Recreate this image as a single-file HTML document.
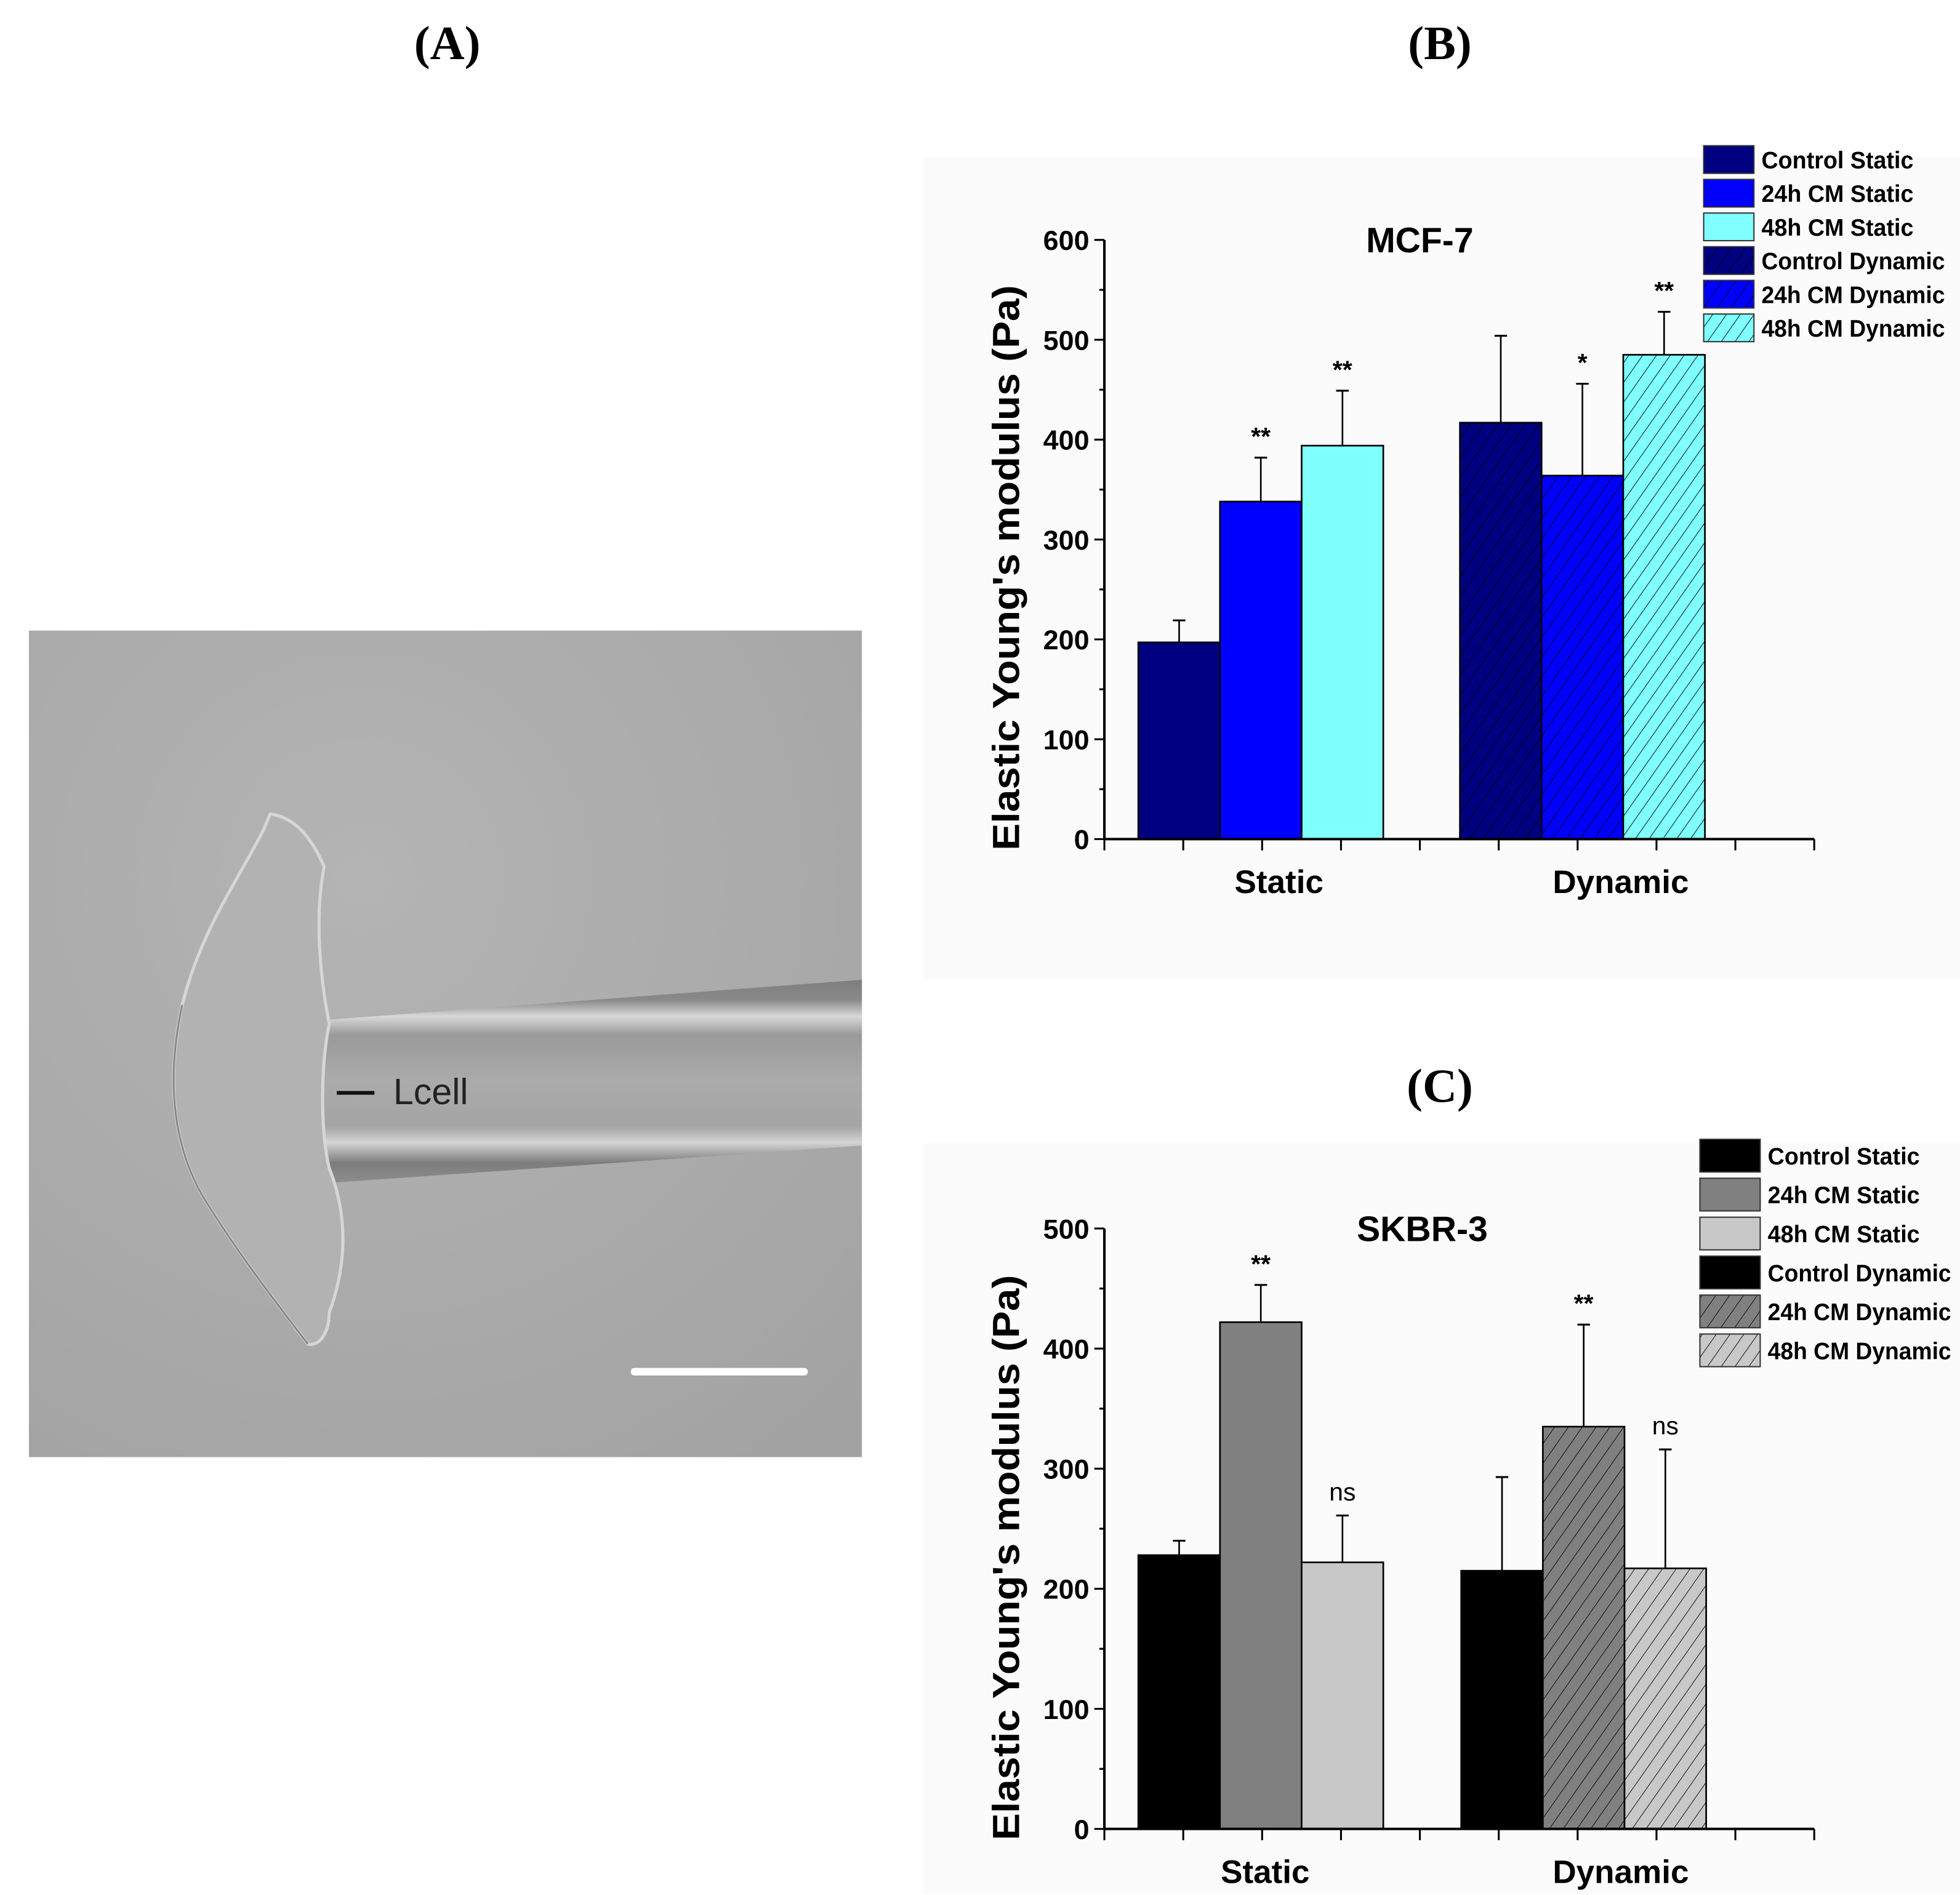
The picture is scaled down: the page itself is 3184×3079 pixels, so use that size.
<!DOCTYPE html>
<html><head><meta charset="utf-8"><style>
html,body{margin:0;padding:0;background:#fff;}
svg{display:block;}
text{font-family:"Liberation Sans",sans-serif;}
</style></head><body>
<svg id="root" xmlns="http://www.w3.org/2000/svg" width="3184" height="3079" viewBox="0 0 1560 1508.6">
<defs>
<pattern id="hatchB0" patternUnits="userSpaceOnUse" width="9" height="9" patternTransform="rotate(35)"><rect width="9" height="9" fill="#000080"/><line x1="0" y1="0" x2="0" y2="9" stroke="#000" stroke-width="0.9"/></pattern>
<pattern id="hatchB1" patternUnits="userSpaceOnUse" width="9" height="9" patternTransform="rotate(35)"><rect width="9" height="9" fill="#0000ff"/><line x1="0" y1="0" x2="0" y2="9" stroke="#000" stroke-width="0.9"/></pattern>
<pattern id="hatchB2" patternUnits="userSpaceOnUse" width="9" height="9" patternTransform="rotate(35)"><rect width="9" height="9" fill="#80ffff"/><line x1="0" y1="0" x2="0" y2="9" stroke="#000" stroke-width="0.9"/></pattern>
<pattern id="hatchC0" patternUnits="userSpaceOnUse" width="9" height="9" patternTransform="rotate(35)"><rect width="9" height="9" fill="#000"/></pattern>
<pattern id="hatchC1" patternUnits="userSpaceOnUse" width="9" height="9" patternTransform="rotate(35)"><rect width="9" height="9" fill="#808080"/><line x1="0" y1="0" x2="0" y2="9" stroke="#000" stroke-width="0.9"/></pattern>
<pattern id="hatchC2" patternUnits="userSpaceOnUse" width="9" height="9" patternTransform="rotate(35)"><rect width="9" height="9" fill="#c8c8c8"/><line x1="0" y1="0" x2="0" y2="9" stroke="#000" stroke-width="0.9"/></pattern>
<radialGradient id="bgA" cx="0.4" cy="0.3" r="0.9"><stop offset="0" stop-color="#b4b4b4"/><stop offset="1" stop-color="#a2a2a2"/></radialGradient>
<linearGradient id="pip" x1="0" y1="0" x2="0" y2="1">
<stop offset="0" stop-color="#7e7e7e"/><stop offset="0.1" stop-color="#8a8a8a"/><stop offset="0.18" stop-color="#d8d8d8"/><stop offset="0.27" stop-color="#9a9a9a"/><stop offset="0.5" stop-color="#ababab"/><stop offset="0.72" stop-color="#a4a4a4"/><stop offset="0.8" stop-color="#d4d4d4"/><stop offset="0.9" stop-color="#7c7c7c"/><stop offset="1" stop-color="#8e8e8e"/></linearGradient>
</defs>

<text x="356" y="47" text-anchor="middle" font-size="38" font-weight="bold" style="font-family:'Liberation Serif',serif">(A)</text>
<text x="1146" y="47" text-anchor="middle" font-size="38" font-weight="bold" style="font-family:'Liberation Serif',serif">(B)</text>
<text x="1146" y="877" text-anchor="middle" font-size="38" font-weight="bold" style="font-family:'Liberation Serif',serif">(C)</text>

<g>
<rect x="23" y="502" width="663" height="658" fill="url(#bgA)"/>
<polygon points="258,812 686,780 686,912 258,942" fill="url(#pip)"/>
<path d="M215,648 C230,650 245,660 258,690 C250,730 255,780 262,815 C255,850 255,900 262,930 C278,970 275,1010 262,1045 C262,1060 255,1072 245,1070 C230,1050 190,1000 160,950 C138,910 132,860 145,800 C160,740 190,700 210,660 Z" fill="#b2b2b2" stroke="#d6d6d6" stroke-width="2.5"/>
<path d="M145,800 C132,860 138,910 160,950 C190,1000 230,1050 245,1070" fill="none" stroke="#888" stroke-width="1.5"/>
<line x1="268" y1="870" x2="298" y2="870" stroke="#111" stroke-width="3"/>
<text x="313" y="879" font-size="29" fill="#222">Lcell</text>
<line x1="505" y1="1092" x2="640" y2="1092" stroke="#fff" stroke-width="6" stroke-linecap="round"/>
</g>

<rect x="735" y="125" width="825" height="655" fill="#fbfbfb"/>
<rect x="735" y="910" width="825" height="598" fill="#fbfbfb"/>
<g id="chartB"></g>
<g id="chartC"></g>
</svg>
<script>
const NS = "http://www.w3.org/2000/svg";
const groups = ["Static", "Dynamic"];
const seriesNames = ["Control Static","24h CM Static","48h CM Static","Control Dynamic","24h CM Dynamic","48h CM Dynamic"];
const mcfValues = [197, 338, 394, 417, 364, 485];
const mcfErrors = [22, 44, 55, 87, 92, 43];
const mcfMarks = ["", "**", "**", "", "*", "**"];
const mcfTicks = [0, 100, 200, 300, 400, 500, 600];
const skValues = [228, 422, 222, 215, 335, 217];
const skErrors = [12, 31, 39, 78, 85, 99];
const skMarks = ["", "**", "ns", "", "**", "ns"];
const skTicks = [0, 100, 200, 300, 400, 500];

function mk(tag, attrs, parent, txt) {
  const e = document.createElementNS(NS, tag);
  for (const k in attrs) e.setAttribute(k, attrs[k]);
  if (txt !== undefined) e.textContent = txt;
  parent.appendChild(e);
  return e;
}

function drawChart(g, cfg) {
  const yScale = v => cfg.y0 - v / cfg.yMax * (cfg.y0 - cfg.yTop);
  const x0 = 879, x1 = 1444, bw = 65;
  for (let v = 0; v <= cfg.yMax; v += 50) {
    const major = v % 100 === 0;
    const t = mk("line", {x1: x0 - (major ? 8 : 4), x2: x0, y1: yScale(v), y2: yScale(v), stroke: "#000", "stroke-width": 1.5}, g);
    
    
  }
  cfg.ticks.forEach(v => {
    const t = mk("text", {x: x0 - 12, y: yScale(v) + 8, "text-anchor": "end", "font-size": 22, "font-weight": "bold"}, g, String(v));
    
    
  });
  for (let k = 0; k <= 9; k++) {
    const xx = x0 + k * (x1 - x0) / 9;
    const t = mk("line", {x1: xx, x2: xx, y1: cfg.y0, y2: cfg.y0 + 9, stroke: "#000", "stroke-width": 1.5}, g);
    
    
  }
  cfg.values.forEach((v, i) => {
    const gi = i < 3 ? 0 : 1, si = i % 3;
    const bx = cfg.groupStart[gi] + si * bw;
    const top = yScale(v);
    const fill = gi === 0 ? cfg.colors[si] : "url(#" + cfg.hatch[si] + ")";
    const r = mk("rect", {x: bx, y: top, width: bw, height: cfg.y0 - top, fill: fill, stroke: "#000", "stroke-width": 1.3}, g);
    
    
    const cx = bx + bw / 2, et = yScale(v + cfg.errors[i]);
    const e1 = mk("line", {x1: cx, x2: cx, y1: top, y2: et, stroke: "#000", "stroke-width": 1.3}, g);
    
    
    const e2 = mk("line", {x1: cx - 5, x2: cx + 5, y1: et, y2: et, stroke: "#000", "stroke-width": 1.5}, g);
    
    
    if (cfg.marks[i]) {
      const isNs = cfg.marks[i] === "ns";
      const s = mk("text", {x: cx, y: et - (isNs ? 12 : 10), "text-anchor": "middle", "font-size": 20, "font-weight": isNs ? "normal" : "bold"}, g, cfg.marks[i]);
      
      
    }
  });
  const ya = mk("line", {x1: x0, x2: x0, y1: cfg.yTop, y2: cfg.y0, stroke: "#000", "stroke-width": 2}, g);
  
  
  const xa = mk("line", {x1: x0, x2: x1, y1: cfg.y0, y2: cfg.y0, stroke: "#000", "stroke-width": 2}, g);
  
  
  groups.forEach((n, gi) => {
    const t = mk("text", {x: cfg.groupLabelX[gi], y: cfg.y0 + 43, "text-anchor": "middle", "font-size": 26, "font-weight": "bold"}, g, n);
    
    
  });
  const tt = mk("text", {x: cfg.titleX, y: cfg.yTop + 10, "text-anchor": "middle", "font-size": 28, "font-weight": "bold"}, g, cfg.title);
  
  
  const yt = mk("text", {x: 0, y: 0, "text-anchor": "middle", "font-size": 30, "font-weight": "bold", textLength: 450, lengthAdjust: "spacingAndGlyphs", transform: "translate(811," + cfg.yTitleY + ") rotate(-90)"}, g, "Elastic Young's modulus (Pa)");
  
  
  const lens = [123, 123, 123, 148, 148, 148];
  seriesNames.forEach((n, i) => {
    const cy = cfg.legY + i * cfg.legStep;
    const fill = i < 3 ? cfg.colors[i] : "url(#" + cfg.hatch[i - 3] + ")";
    const r = mk("rect", {x: cfg.legX, y: cy - cfg.legH / 2, width: cfg.legW, height: cfg.legH, fill: fill, stroke: "#333", "stroke-width": 1}, g);
    
    
    const t = mk("text", {x: cfg.legX + cfg.legW + 6, y: cy + 7, "font-size": 19, "font-weight": "bold", textLength: lens[i] - 2, lengthAdjust: "spacingAndGlyphs"}, g, n);
    
    
  });
}

drawChart(document.getElementById("chartB"), {
  values: mcfValues, errors: mcfErrors, marks: mcfMarks, ticks: mcfTicks,
  yMax: 600, y0: 668, yTop: 191, groupStart: [906, 1162], groupLabelX: [1018, 1290],
  colors: ["#000080", "#0000ff", "#80ffff"], hatch: ["hatchB0", "hatchB1", "hatchB2"],
  title: "MCF-7", titleX: 1130, yTitleY: 452,
  legX: 1356, legW: 40, legH: 22, legY: 127, legStep: 26.8
});
drawChart(document.getElementById("chartC"), {
  values: skValues, errors: skErrors, marks: skMarks, ticks: skTicks,
  yMax: 500, y0: 1456, yTop: 978, groupStart: [906, 1163], groupLabelX: [1007, 1290],
  colors: ["#000000", "#808080", "#c8c8c8"], hatch: ["hatchC0", "hatchC1", "hatchC2"],
  title: "SKBR-3", titleX: 1132, yTitleY: 1240,
  legX: 1353, legW: 48, legH: 26, legY: 920, legStep: 31
});
</script>
</body></html>
